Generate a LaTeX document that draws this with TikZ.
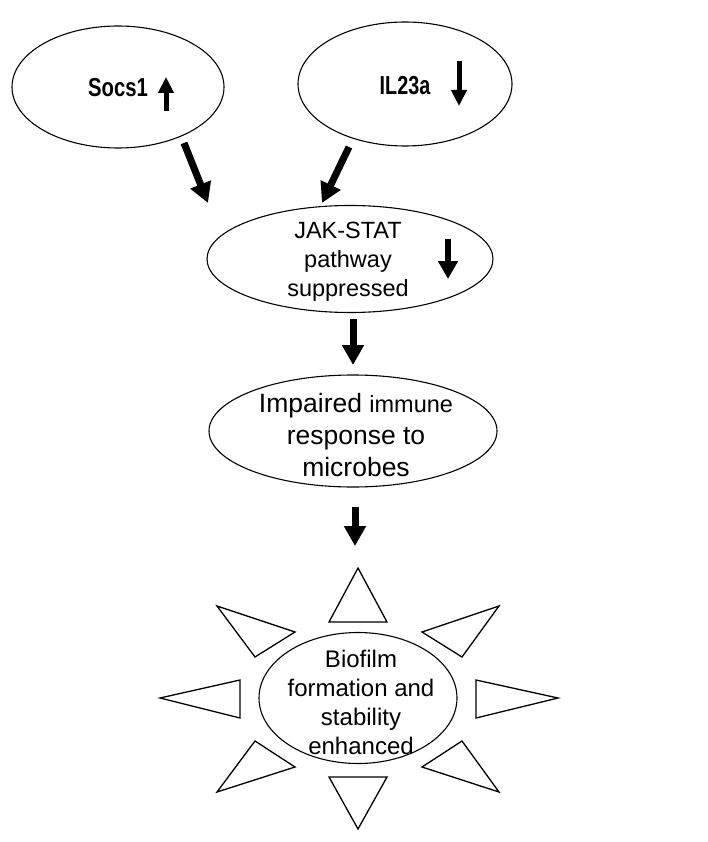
\documentclass[tikz,border=0pt]{standalone}
\usepackage{fontspec}
\setmainfont{Liberation Sans}
\usetikzlibrary{shapes.geometric,arrows.meta}
\begin{document}
\begin{tikzpicture}[x=1pt,y=-1pt,
  oval/.style={draw,ellipse,line width=1.1pt,inner sep=0pt},
  lbl/.style={align=center,inner sep=0pt},
  bigarrow/.style={line width=7pt,-{Triangle[length=20pt,width=21pt]}},
  smallarrow/.style={line width=5pt,-{Triangle[length=16pt,width=15pt]}},
  ray/.style={draw,line width=1.3pt,line join=miter}]
\useasboundingbox[fill=white] (0,0) rectangle (708,842);
% ovals
\node[oval,minimum width=212pt,minimum height=122pt] (socs) at (118,87) {};
\node[oval,minimum width=214pt,minimum height=124pt] (il) at (405,84) {};
\node[oval,minimum width=286pt,minimum height=107pt] (jak) at (350,259) {};
\node[oval,minimum width=288pt,minimum height=112pt] (imp) at (353,431) {};
\node[oval,minimum width=198pt,minimum height=131pt] (bio) at (358,698) {};
% labels
\node[lbl,font={\fontsize{26}{30}\selectfont\bfseries}] (socslbl) at (118,88) {\scalebox{0.78}[1]{Socs1}};
\node[lbl,font={\fontsize{26}{30}\selectfont\bfseries}] (illbl) at (405,86) {\scalebox{0.76}[1]{IL23a}};
\node[lbl,font={\fontsize{23.5}{29}\selectfont}] (jaklbl) at (348,262) {JAK-STAT\\pathway\\suppressed};
\node[lbl,font={\fontsize{26.5}{32}\selectfont}] (implbl) at (356,435) {Impaired {\fontsize{23.5}{32}\selectfont immune}\\response to\\microbes};
\node[lbl,font={\fontsize{24}{29}\selectfont}] (biolbl) at (361,702) {Biofilm\\formation and\\stability\\enhanced};
% small arrows in ovals
\coordinate (su1) at (166,111); \coordinate (su2) at (166,77);
\draw[smallarrow] (su1) -- (su2);
\coordinate (id1) at (459,61); \coordinate (id2) at (459,106);
\draw[smallarrow] (id1) -- (id2);
\coordinate (jd1) at (448,239); \coordinate (jd2) at (448,279);
\draw[line width=6pt,-{Triangle[length=18pt,width=19pt]}] (jd1) -- (jd2);
% connectors
\coordinate (c1a) at (184,143); \coordinate (c1b) at (208,203);
\draw[bigarrow] (c1a) -- (c1b);
\coordinate (c2a) at (349,147); \coordinate (c2b) at (322,203);
\draw[bigarrow] (c2a) -- (c2b);
\coordinate (c3a) at (353,319); \coordinate (c3b) at (353,365);
\draw[bigarrow] (c3a) -- (c3b);
\coordinate (c4a) at (355,507); \coordinate (c4b) at (355,546);
\draw[bigarrow] (c4a) -- (c4b);
% rays
\draw[ray] (358,568) -- (387,622) -- (329,622) -- cycle;
\draw[ray] (358,829) -- (387,777) -- (329,777) -- cycle;
\draw[ray] (160,698) -- (240,680) -- (240,718) -- cycle;
\draw[ray] (558,698) -- (476,680) -- (476,718) -- cycle;
\draw[ray] (217,606) -- (295,632) -- (255,657) -- cycle;
\draw[ray] (499,606) -- (422,632) -- (462,657) -- cycle;
\draw[ray] (217,792) -- (255,741) -- (295,767) -- cycle;
\draw[ray] (499,792) -- (462,741) -- (422,767) -- cycle;
\end{tikzpicture}
\end{document}
